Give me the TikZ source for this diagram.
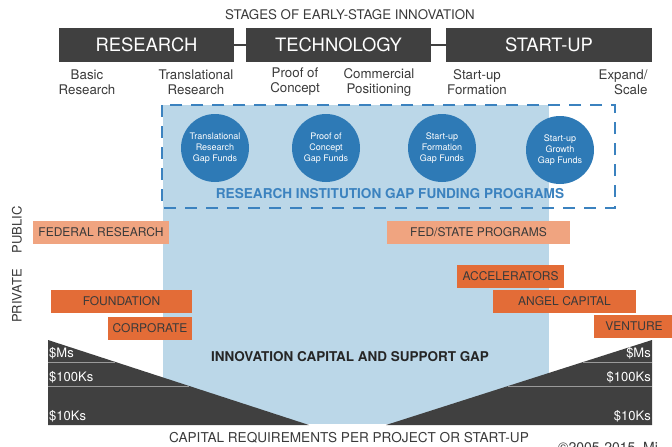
\documentclass[tikz,border=0pt]{standalone}
\usepackage{fontspec}
\setmainfont{TeX Gyre Heros}

\definecolor{stagegray}{HTML}{404040}
\definecolor{labelgray}{HTML}{3A3A3A}
\definecolor{gapfill}{HTML}{BBD7E8}
\definecolor{circblue}{HTML}{2E7AB6}
\definecolor{progblue}{HTML}{3B82BF}
\definecolor{salmon}{HTML}{F0A480}
\definecolor{orangeA}{HTML}{E36C37}
\definecolor{sepgray}{HTML}{9A9A9A}

\begin{document}
\begin{tikzpicture}[x=1pt, y=-1pt,
    stage/.style={fill=stagegray, text=white, minimum height=34pt, inner sep=0pt,
        font=\fontsize{18.4}{20}\selectfont},
    sub/.style={align=center, text=labelgray, font=\fontsize{13.3}{15}\selectfont},
    gapfund/.style={circle, fill=circblue, minimum size=68pt, inner sep=0pt,
        align=center, text=white, font=\fontsize{9}{11}\selectfont},
    pub/.style={fill=salmon, minimum height=23pt, inner sep=0pt, text=labelgray,
        font=\fontsize{12}{14}\selectfont},
    priv/.style={pub, fill=orangeA},
    side/.style={rotate=90, text=labelgray, font=\fontsize{13}{15}\selectfont},
    amount/.style={text=white, inner sep=1pt, font=\fontsize{13}{15}\selectfont},
    sepline/.style={sepgray, line width=1pt}]
    \useasboundingbox (0,0) rectangle (672,447);

    % gap region and gap funding programs
    \fill[gapfill] (163,105) rectangle (549,424);
    \draw[progblue, line width=1.5pt, dash pattern=on 12pt off 9pt] (162,105) rectangle (615,208);

    \node[gapfund] (transfund) at (215,148) {Translational\\Research\\Gap Funds};
    \node[gapfund] (pocfund) at (326,148) {Proof of\\Concept\\Gap Funds};
    \node[gapfund] (formfund) at (442,148) {Start-up\\Formation\\Gap Funds};
    \node[gapfund] (growfund) at (560,150) {Start-up\\Growth\\Gap Funds};
    \node[text=progblue, font=\bfseries\fontsize{13.6}{15}\selectfont] (programs) at (390,194)
        {RESEARCH INSTITUTION GAP FUNDING PROGRAMS};

    % stages
    \node[text=labelgray, font=\fontsize{13.3}{15}\selectfont] (title) at (350,15)
        {STAGES OF EARLY-STAGE INNOVATION};
    \node[stage, minimum width=175pt] (research) at (146.5,45) {RESEARCH};
    \node[stage, minimum width=185pt] (technology) at (338.5,45) {TECHNOLOGY};
    \node[stage, minimum width=206pt] (startup) at (549,45) {START-UP};
    \draw[stagegray, line width=2.5pt] (research) -- (technology);
    \draw[stagegray, line width=2.5pt] (technology) -- (startup);

    \node[sub] (basic) at (87,82) {Basic\\Research};
    \node[sub] (transl) at (196,82) {Translational\\Research};
    \node[sub] (proof) at (295,82) {Proof of\\Concept};
    \node[sub] (commercial) at (379,82) {Commercial\\Positioning};
    \node[sub] (formation) at (477,82) {Start-up\\Formation};
    \node[sub, align=right, anchor=east] (expand) at (651,82) {Expand/\\Scale};

    % public and private sources
    \node[side] (public) at (17,230) {PUBLIC};
    \node[side] (private) at (17,296) {PRIVATE};

    \node[pub, minimum width=136pt] (federal) at (101,232.5) {FEDERAL RESEARCH};
    \node[pub, minimum width=183pt] (fedstate) at (478.5,232.5) {FED/STATE PROGRAMS};
    \node[priv, minimum width=107pt] (accel) at (510.5,276.5) {ACCELERATORS};
    \node[priv, minimum width=143pt] (angel) at (564.5,301.5) {ANGEL CAPITAL};
    \node[priv, minimum width=80pt] (venture) at (634,326.5) {VENTURE};
    \node[priv, minimum width=141pt] (foundation) at (121.5,301.5) {FOUNDATION};
    \node[priv, minimum width=84pt] (corporate) at (150,328) {CORPORATE};

    % capital requirements
    \fill[stagegray] (48,340) -- (309,425) -- (48,425) -- cycle;
    \fill[stagegray] (652,340) -- (386,425) -- (652,425) -- cycle;
    \draw[sepline] (48,362) -- (115,362);
    \draw[sepline] (48,386) -- (189,386);
    \draw[sepline] (583,362) -- (652,362);
    \draw[sepline] (508,386) -- (652,386);

    \node[amount, anchor=west] (msL) at (48,353) {\$Ms};
    \node[amount, anchor=west] (hundredL) at (48,377) {\$100Ks};
    \node[amount, anchor=west] (tenL) at (48,416) {\$10Ks};
    \node[amount, anchor=east] (msR) at (652,353) {\$Ms};
    \node[amount, anchor=east] (hundredR) at (652,377) {\$100Ks};
    \node[amount, anchor=east] (tenR) at (652,416) {\$10Ks};

    \node[text=black!85, font=\bfseries\fontsize{13.5}{15}\selectfont] (gap) at (350,357)
        {INNOVATION CAPITAL AND SUPPORT GAP};
    \node[text=labelgray, font=\fontsize{13.6}{15}\selectfont] (caption) at (349,438)
        {CAPITAL REQUIREMENTS PER PROJECT OR START-UP};
    \node[text=labelgray, anchor=base west, inner sep=0pt, font=\fontsize{14}{16}\selectfont]
        (copy) at (558,452) {©2005-2015\ \ Mi};
\end{tikzpicture}
\end{document}
